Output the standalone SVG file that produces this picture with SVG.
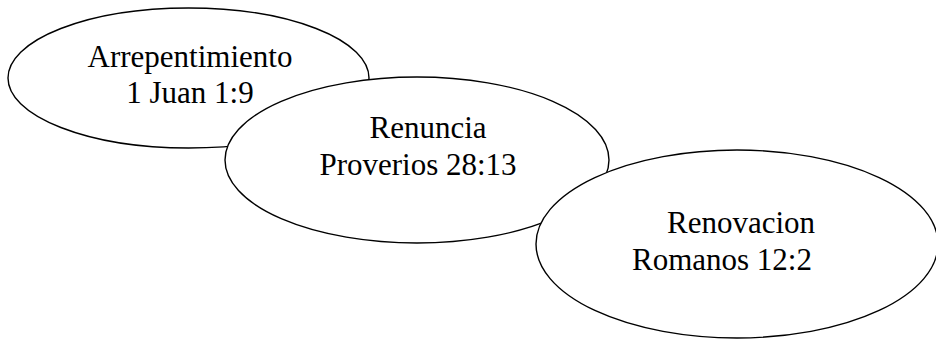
<svg xmlns="http://www.w3.org/2000/svg" width="936" height="339" viewBox="0 0 936 339">
<style>
.n{fill:#fff;stroke:#000;stroke-width:1.4}
.t{font-family:"Liberation Serif","Times New Roman",serif;font-size:31px;fill:#000;text-anchor:middle}
</style>
<rect width="936" height="339" fill="#fff"/>
<g id="connectors"></g>
<g id="n1">
<ellipse class="n" cx="188.5" cy="78" rx="180.5" ry="70"/>
<text class="t" x="190" y="67">Arrepentimiento</text>
<text class="t" x="190" y="103">1 Juan 1:9</text>
</g>
<g id="n2">
<ellipse class="n" cx="417" cy="160" rx="192" ry="83"/>
<text class="t" x="428" y="138">Renuncia</text>
<text class="t" x="418" y="175">Proverios 28:13</text>
</g>
<g id="n3">
<ellipse class="n" cx="737" cy="244" rx="201" ry="94"/>
<text class="t" x="741" y="233">Renovacion</text>
<text class="t" x="722" y="270">Romanos 12:2</text>
</g>
</svg>
